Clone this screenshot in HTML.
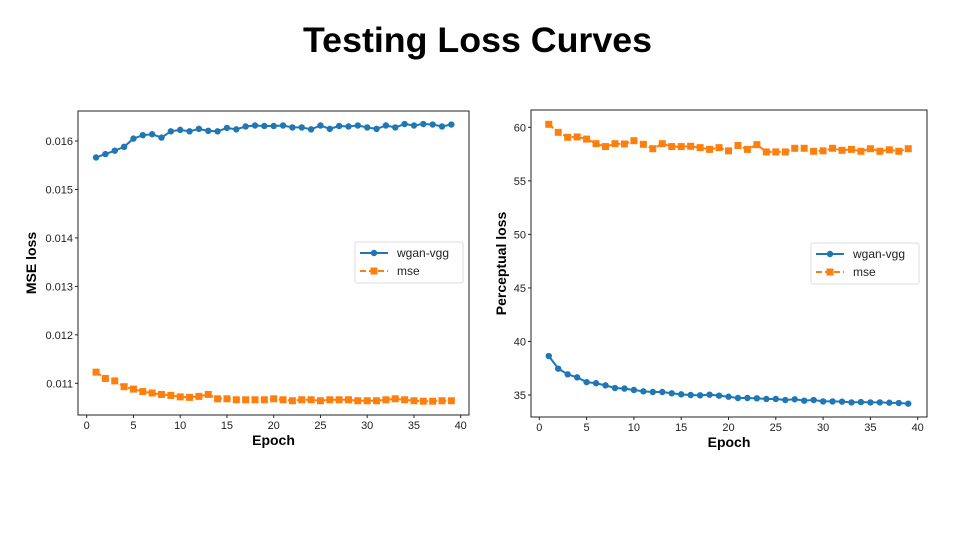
<!DOCTYPE html>
<html><head><meta charset="utf-8"><style>
body{margin:0;background:#fff;}
svg text{font-family:"Liberation Sans","DejaVu Sans",sans-serif;}
</style></head><body>
<svg id="c" width="960" height="540" xmlns="http://www.w3.org/2000/svg">
<text x="303" y="52" font-size="35" font-weight="bold" textLength="349" lengthAdjust="spacingAndGlyphs">Testing Loss Curves</text>
</svg>
<script>
const epochs=[1,2,3,4,5,6,7,8,9,10,11,12,13,14,15,16,17,18,19,20,21,22,23,24,25,26,27,28,29,30,31,32,33,34,35,36,37,38,39];
const mseWgan=[0.01566,0.01573,0.0158,0.01588,0.01605,0.01612,0.01614,0.01607,0.0162,0.01623,0.0162,0.01625,0.01621,0.0162,0.01627,0.01624,0.0163,0.01632,0.01631,0.01631,0.01632,0.01628,0.01628,0.01624,0.01632,0.01625,0.01631,0.0163,0.01632,0.01628,0.01625,0.01632,0.01628,0.01635,0.01632,0.01635,0.01634,0.0163,0.01634];
const mseMse=[0.01123,0.0111,0.01105,0.01093,0.01088,0.01083,0.0108,0.01077,0.01075,0.01072,0.01071,0.01073,0.01077,0.01068,0.01068,0.01066,0.01066,0.01066,0.01066,0.01068,0.01066,0.01064,0.01066,0.01066,0.01064,0.01066,0.01066,0.01066,0.01064,0.01064,0.01064,0.01066,0.01068,0.01066,0.01064,0.01063,0.01063,0.01064,0.01064];
const percWgan=[38.64,37.46,36.93,36.65,36.2,36.1,35.9,35.65,35.6,35.47,35.34,35.28,35.28,35.16,35.06,35.0,34.97,35.03,34.94,34.84,34.72,34.72,34.69,34.63,34.63,34.53,34.6,34.47,34.53,34.4,34.4,34.38,34.31,34.34,34.31,34.31,34.28,34.25,34.19];
const percMse=[60.28,59.53,59.07,59.1,58.9,58.47,58.2,58.47,58.44,58.75,58.41,58.0,58.47,58.2,58.2,58.23,58.1,57.94,58.1,57.8,58.3,57.94,58.38,57.7,57.7,57.7,58.04,58.04,57.76,57.8,58.04,57.85,57.94,57.76,58.0,57.76,57.9,57.76,58.0];
const xTicks=[0,5,10,15,20,25,30,35,40];
const mseTicks=[0.011,0.012,0.013,0.014,0.015,0.016];
const percTicks=[35,40,45,50,55,60];
const BLUE="#1f77b4",ORANGE="#ff7f0e";
const svg=document.getElementById('c');
const NS="http://www.w3.org/2000/svg";
function mk(tag,attrs,parent){const e=document.createElementNS(NS,tag);for(const k in attrs)e.setAttribute(k,attrs[k]);(parent||svg).appendChild(e);return e;}

function panel(o){
  const g=mk('g',{});
  
  
  const xs=v=>o.x0+(v-0)/40*(o.x40-o.x0);
  const ys=v=>o.yA+(v-o.vA)/(o.vB-o.vA)*(o.yB-o.yA);
  const fr=mk('rect',{x:o.L,y:o.T,width:o.R-o.L,height:o.B-o.T,fill:'none',stroke:'#222','stroke-width':1},g);
  
  
  xTicks.forEach(t=>{
    const x=xs(t);
    mk('line',{x1:x,x2:x,y1:o.B,y2:o.B+3,stroke:'#222'},g);
    const tx=mk('text',{x:x,y:o.B+14,'font-size':11,'text-anchor':'middle',fill:'#222'},g);
    tx.textContent=t;
    
    
  });
  o.ticks.forEach(t=>{
    const y=ys(t);
    mk('line',{x1:o.L-3,x2:o.L,y1:y,y2:y,stroke:'#222'},g);
    const tx=mk('text',{x:o.L-5,y:y+4,'font-size':11,'text-anchor':'end',fill:'#222'},g);
    tx.textContent=o.fmt(t);
    
    
  });
  const xl=mk('text',{x:(o.L+o.R)/2,y:o.B+30,'font-size':14,'font-weight':'bold','text-anchor':'middle'},g);
  xl.textContent='Epoch';
  
  
  const yl=mk('text',{x:0,y:0,'font-size':14,'font-weight':'bold','text-anchor':'middle',transform:`translate(${o.ylx},${(o.T+o.B)/2+(o.yOff||0)}) rotate(-90)`},g);
  yl.textContent=o.ylabel;
  
  
  // wgan line
  const p1=mk('polyline',{points:epochs.map((e,i)=>xs(e)+','+ys(o.wgan[i])).join(' '),fill:'none',stroke:BLUE,'stroke-width':2},g);
  
  
  epochs.forEach((e,i)=>{
    const c=mk('circle',{cx:xs(e),cy:ys(o.wgan[i]),r:3.2,fill:BLUE},g);
    
    
  });
  const p2=mk('polyline',{points:epochs.map((e,i)=>xs(e)+','+ys(o.mse[i])).join(' '),fill:'none',stroke:ORANGE,'stroke-width':2,'stroke-dasharray':'6,3'},g);
  
  
  epochs.forEach((e,i)=>{
    const r=mk('rect',{x:xs(e)-3.5,y:ys(o.mse[i])-3.5,width:7,height:7,fill:ORANGE},g);
    
    
  });
  // legend
  const lg=mk('g',{},g);
  
  
  mk('rect',{x:o.lx,y:o.ly,width:108,height:41,fill:'#fff',stroke:'#ddd',rx:2},lg);
  mk('line',{x1:o.lx+5,x2:o.lx+33,y1:o.ly+11,y2:o.ly+11,stroke:BLUE,'stroke-width':2},lg);
  mk('circle',{cx:o.lx+19,cy:o.ly+11,r:3.2,fill:BLUE},lg);
  const t1=mk('text',{x:o.lx+42,y:o.ly+15,'font-size':12,fill:'#222'},lg);t1.textContent='wgan-vgg';
  
  
  mk('line',{x1:o.lx+5,x2:o.lx+33,y1:o.ly+29,y2:o.ly+29,stroke:ORANGE,'stroke-width':2,'stroke-dasharray':'6,3'},lg);
  mk('rect',{x:o.lx+15.5,y:o.ly+25.5,width:7,height:7,fill:ORANGE},lg);
  const t2=mk('text',{x:o.lx+42,y:o.ly+33,'font-size':12,fill:'#222'},lg);t2.textContent='mse';
  
  
}
panel({name:'mse-loss-chart',L:78,R:469,T:111,B:415,x0:86.7,x40:460.7,yA:141,vA:0.016,yB:383.3,vB:0.011,ticks:mseTicks,fmt:t=>t.toFixed(3),ylabel:'MSE loss',ylx:36,wgan:mseWgan,mse:mseMse,lx:355,ly:242});
panel({name:'perceptual-loss-chart',L:531,R:927,T:110,B:417,x0:539.3,x40:917.7,yA:127.3,vA:60,yB:395,vB:35,ticks:percTicks,fmt:t=>t,ylabel:'Perceptual loss',ylx:506,wgan:percWgan,mse:percMse,lx:811,ly:243});
</script>
</body></html>
